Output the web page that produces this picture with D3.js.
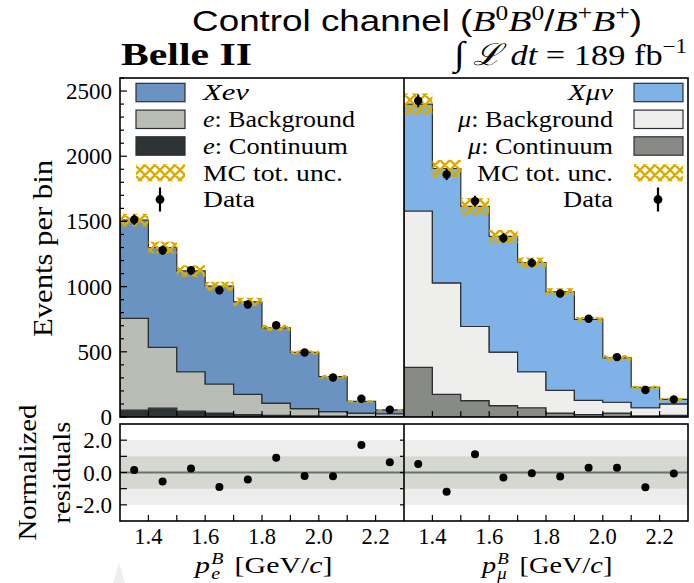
<!DOCTYPE html>
<html><head><meta charset="utf-8">
<script src="https://cdn.jsdelivr.net/npm/d3@7"></script>
<style>body{margin:0;background:#fff} svg{display:block}</style>
</head><body>
<svg id="c" width="694" height="583"></svg>
<script>
// ---------------- data ----------------
const binEdges = [1.3, 1.4, 1.5, 1.6, 1.7, 1.8, 1.9, 2.0, 2.1, 2.2, 2.3];
const binCenters = [1.35, 1.45, 1.55, 1.65, 1.75, 1.85, 1.95, 2.05, 2.15, 2.25];
const xTickValues = [1.4, 1.6, 1.8, 2.0, 2.2];
const xTickLabels = ["1.4", "1.6", "1.8", "2.0", "2.2"];
const yTickValues = [0, 500, 1000, 1500, 2000, 2500];
const resTickValues = [-2, 0, 2];
const resTickLabels = ["-2.0", "0.0", "2.0"];

// electron channel (stack: continuum, background, signal)
const contE = [52, 68, 45, 30, 18, 12, 8, 6, 4, 3];
const bkgE  = [704, 466, 302, 223, 156, 95, 56, 35, 26, 22];
const sigE  = [754, 766, 773, 750, 709, 577, 431, 268, 90, 29];
const uncE  = [48, 45, 44, 34, 32, 23, 16, 14, 9, 7];
const dataE = [1513, 1279, 1125, 972, 863, 704, 495, 303, 140, 56];
const errE  = [39, 36, 34, 31, 29, 27, 22, 17, 12, 8];
const resE  = [0.15, -0.55, 0.25, -0.90, -0.44, 0.92, -0.21, -0.23, 1.70, 0.63];

// muon channel
const contM = [380, 174, 125, 87, 71, 30, 18, 30, 8, 12];
const bkgM  = [1200, 854, 569, 411, 276, 174, 110, 83, 63, 88];
const sigM  = [820, 878, 921, 887, 838, 755, 620, 341, 156, 35];
const uncM  = [82, 66, 64, 50, 38, 29, 20, 21, 13, 12];
const dataM = [2425, 1860, 1656, 1372, 1182, 947, 753, 459, 207, 135];
const errM  = [49, 43, 41, 37, 34, 31, 27, 21, 14, 12];
const resM  = [0.52, -1.19, 1.13, -0.31, -0.04, -0.25, 0.29, 0.29, -0.92, -0.06];

const legendLabelsE = [[["Xeν", true]], [["e", true], [": Background", false]], [["e", true], [": Continuum", false]], [["MC tot. unc.", false]], [["Data", false]]];
const legendLabelsM = [[["Xμν", true]], [["μ", true], [": Background", false]], [["μ", true], [": Continuum", false]], [["MC tot. unc.", false]], [["Data", false]]];

// ---------------- style ----------------
const SERIF = "'Liberation Serif','Times New Roman',serif";
const SANS = "'Liberation Sans',Arial,sans-serif";
const colE = ["#2e3436", "#babdb6", "#6a93c1"];
const colM = ["#888a85", "#eeeeec", "#7fb3e8"];
const hatchCol = "#d9ac00";
const edgeCol = "#2b2f31";

const L = 120, MID = 404, R = 688, T = 78, B = 417, RT = 424, RB = 521;

const svg = d3.select("#c");
const defs = svg.append("defs");
const pat = defs.append("pattern").attr("id", "hatch").attr("patternUnits", "userSpaceOnUse")
  .attr("width", 10).attr("height", 10);
pat.append("path").attr("d", "M0,0 L10,10 M-1,9 L1,11 M9,-1 L11,1 M0,10 L10,0 M-1,1 L1,-1 M9,11 L11,9")
  .attr("stroke", hatchCol).attr("stroke-width", 2.4).attr("fill", "none");
[["clipE", L, MID], ["clipM", MID, R]].forEach(([id, a, b]) => {
  defs.append("clipPath").attr("id", id).append("rect").attr("x", a).attr("y", T).attr("width", b - a).attr("height", B - T);
});

const xE = d3.scaleLinear().domain([1.3, 2.3]).range([L, MID]);
const xM = d3.scaleLinear().domain([1.3, 2.3]).range([MID, R]);
const y = d3.scaleLinear().domain([0, 2600]).range([B, T]);
const yr = d3.scaleLinear().domain([-3, 3]).range([RB, RT]);

function drawPanel(x, clip, comps, cols, unc, data, err, res) {
  const g = svg.append("g").attr("clip-path", `url(#${clip})`);
  let lower = comps[0].map(() => 0);
  const layers = comps.map(c => {
    const y0 = lower.slice();
    const y1 = lower.map((v, i) => v + c[i]);
    lower = y1;
    return { y0, y1 };
  });
  const area = d3.area().curve(d3.curveStepAfter)
    .x(d => x(d.x)).y0(d => y(d.y0)).y1(d => y(d.y1));
  layers.forEach((ly, k) => {
    const pts = binEdges.map((e, i) => {
      const j = Math.min(i, 9);
      return { x: e, y0: ly.y0[j], y1: ly.y1[j] };
    });
    g.append("path").attr("d", area(pts)).attr("fill", cols[k])
      .attr("stroke", edgeCol).attr("stroke-width", 1.2);
  });
  const total = lower;
  g.selectAll("rect.unc").data(total).join("rect").attr("class", "unc")
    .attr("x", (d, i) => x(binEdges[i]))
    .attr("width", (d, i) => x(binEdges[i + 1]) - x(binEdges[i]))
    .attr("y", (d, i) => y(d + unc[i]))
    .attr("height", (d, i) => y(d - unc[i]) - y(d + unc[i]))
    .attr("fill", "url(#hatch)");
  g.selectAll("line.err").data(data).join("line").attr("class", "err")
    .attr("x1", (d, i) => x(binCenters[i])).attr("x2", (d, i) => x(binCenters[i]))
    .attr("y1", (d, i) => y(d - err[i])).attr("y2", (d, i) => y(d + err[i]))
    .attr("stroke", "#000").attr("stroke-width", 2);
  g.selectAll("circle").data(data).join("circle")
    .attr("cx", (d, i) => x(binCenters[i])).attr("cy", d => y(d)).attr("r", 4.2).attr("fill", "#000");
  svg.append("g").selectAll("circle").data(res).join("circle")
    .attr("cx", (d, i) => x(binCenters[i])).attr("cy", d => yr(d)).attr("r", 4).attr("fill", "#000");
}

// residual bands (behind)
const rb = svg.append("g");
rb.append("rect").attr("x", L).attr("width", R - L).attr("y", yr(2)).attr("height", yr(-2) - yr(2)).attr("fill", "#ededeb");
rb.append("rect").attr("x", L).attr("width", R - L).attr("y", yr(1)).attr("height", yr(-1) - yr(1)).attr("fill", "#d5d8d1");
rb.append("line").attr("x1", L).attr("x2", R).attr("y1", yr(0)).attr("y2", yr(0)).attr("stroke", "#6f716d").attr("stroke-width", 2);

drawPanel(xE, "clipE", [contE, bkgE, sigE], colE, uncE, dataE, errE, resE);
drawPanel(xM, "clipM", [contM, bkgM, sigM], colM, uncM, dataM, errM, resM);

// ---------------- axes / ticks ----------------
const ax = svg.append("g").attr("stroke", "#000").attr("stroke-width", 1.2);
d3.range(0, 2601, 100).forEach(v => {
  const major = v % 500 === 0;
  ax.append("line").attr("x1", L).attr("x2", L + (major ? 7 : 4)).attr("y1", y(v)).attr("y2", y(v));
});
[-2, -1, 0, 1, 2].forEach(v => {
  ax.append("line").attr("x1", L).attr("x2", L + 7).attr("y1", yr(v)).attr("y2", yr(v));
  ax.append("line").attr("x1", MID - 4).attr("x2", MID).attr("y1", yr(v)).attr("y2", yr(v));
});
[xE, xM].forEach(x => {
  binEdges.slice(1, 10).forEach(v => {
    ax.append("line").attr("x1", x(v)).attr("x2", x(v)).attr("y1", B).attr("y2", B - 6);
    ax.append("line").attr("x1", x(v)).attr("x2", x(v)).attr("y1", RB).attr("y2", RB - 6);
  });
});
const fr = svg.append("g").attr("fill", "none").attr("stroke", "#000").attr("stroke-width", 1.6);
fr.append("rect").attr("x", L).attr("y", T).attr("width", R - L).attr("height", B - T);
fr.append("line").attr("x1", MID).attr("x2", MID).attr("y1", T).attr("y2", B);
fr.append("rect").attr("x", L).attr("y", RT).attr("width", R - L).attr("height", RB - RT);
fr.append("line").attr("x1", MID).attr("x2", MID).attr("y1", RT).attr("y2", RB);

const tl = svg.append("g").style("font-family", SERIF).style("font-size", "23px").attr("fill", "#000");
yTickValues.forEach(v => tl.append("text").attr("x", 112).attr("y", y(v) + 8).attr("text-anchor", "end").text(v));
resTickValues.forEach((v, i) => tl.append("text").attr("x", 112).attr("y", yr(v) + 8).attr("text-anchor", "end").text(resTickLabels[i]));
[xE, xM].forEach(x => xTickValues.forEach((v, i) =>
  tl.append("text").attr("x", x(v)).attr("y", 544).attr("text-anchor", "middle")
    .style("font-size", "22.5px").text(xTickLabels[i])));

function fitH(node, target, ax0) {
  const w = node.getComputedTextLength();
  const k = target / w;
  node.setAttribute("transform", `translate(${ax0},0) scale(${k},1) translate(${-ax0},0)`);
}

// ---------------- legends ----------------
const rows = [92.5, 119.3, 146, 172.8, 199.5];
function legend(cols, labels, patchX, textX, anchor, dataX, widths) {
  const g = svg.append("g");
  rows.forEach((ry, i) => {
    if (i < 3) {
      g.append("rect").attr("x", patchX).attr("y", ry - 9.2).attr("width", 49).attr("height", 18.4)
        .attr("fill", cols[2 - i]).attr("stroke", edgeCol).attr("stroke-width", 1.2);
    } else if (i === 3) {
      g.append("rect").attr("x", patchX).attr("y", ry - 8.5).attr("width", 49).attr("height", 17)
        .attr("fill", "url(#hatch)");
    } else {
      g.append("line").attr("x1", dataX).attr("x2", dataX).attr("y1", ry - 12).attr("y2", ry + 12)
        .attr("stroke", "#000").attr("stroke-width", 2.2);
      g.append("circle").attr("cx", dataX).attr("cy", ry).attr("r", 4.4).attr("fill", "#000");
    }
    const t = g.append("text").attr("x", textX).attr("y", ry + 8).attr("text-anchor", anchor)
      .style("font-family", SERIF).style("font-size", "24px");
    labels[i].forEach(([s, it]) => t.append("tspan").style("font-style", it ? "italic" : "normal").text(s));
    fitH(t.node(), widths[i], textX);
  });
}
legend(colE, legendLabelsE, 136, 203, "start", 160, [46, 152, 145, 140, 52]);
legend(colM, legendLabelsM, 634, 613, "end", 658, [45, 155, 145, 136, 50]);

// ---------------- titles ----------------
const title = svg.append("text").attr("x", 417).attr("y", 31).attr("text-anchor", "middle").attr("fill", "#000");
function piece(parent, s, font, size, italic, dy, dx) {
  const ts = parent.append("tspan").style("font-family", font).style("font-size", size + "px")
    .style("font-style", italic ? "italic" : "normal").text(s);
  if (dy) ts.attr("dy", dy);
  if (dx) ts.attr("dx", dx);
  return ts;
}
piece(title, "Control channel (", SANS, 29, false);
piece(title, "B", SERIF, 30, true);
piece(title, "0", SERIF, 20, false, -11);
piece(title, "B", SERIF, 30, true, 11);
piece(title, "0", SERIF, 20, false, -11);
piece(title, "/", SANS, 29, false, 11);
piece(title, "B", SERIF, 30, true);
piece(title, "+", SERIF, 20, false, -11);
piece(title, "B", SERIF, 30, true, 11);
piece(title, "+", SERIF, 20, false, -11);
piece(title, ")", SANS, 29, false, 11);
fitH(title.node(), 450, 417);

const belle = svg.append("text").attr("x", 121).attr("y", 65).style("font-family", SERIF)
  .style("font-size", "32px").style("font-weight", "bold").text("Belle II");
fitH(belle.node(), 131, 121);

const lumi = svg.append("text").attr("x", 687).attr("y", 65).attr("text-anchor", "end");
piece(lumi, "∫", SERIF, 34, true);
piece(lumi, " ℒ", SERIF, 30, true);
piece(lumi, " dt", SERIF, 30, true);
piece(lumi, " = 189 fb", SERIF, 30, false);
piece(lumi, "−1", SERIF, 20, false, -12);
fitH(lumi.node(), 233, 687);

// ---------------- axis labels ----------------
function rotLabel(s, bx, cy, size, target) {
  const g = svg.append("g").attr("transform", `translate(${bx},${cy}) rotate(-90)`);
  const t = g.append("text").attr("x", 0).attr("y", 0).attr("text-anchor", "middle")
    .style("font-family", SERIF).style("font-size", size + "px").text(s);
  fitH(t.node(), target, 0);
}
rotLabel("Events per bin", 52, 248.5, 27, 177);
rotLabel("Normalized", 36, 472.5, 26, 136);
rotLabel("residuals", 70, 472.5, 26, 102);

function measure(s, size, italic) {
  const t = svg.append("text").style("font-family", SERIF).style("font-size", size + "px")
    .style("font-style", italic ? "italic" : "normal").text(s);
  const w = t.node().getComputedTextLength();
  t.remove();
  return w;
}
function xLabel(cx, base, sub, target) {
  const wB = measure("B", 16, true), wS = measure(sub, 16, true);
  const g = svg.append("g");
  const t = g.append("text").attr("x", 0).attr("y", base);
  piece(t, "p", SERIF, 24, true);
  piece(t, "B", SERIF, 16, true, -9, 1);
  piece(t, sub, SERIF, 16, true, 15, -wB);
  piece(t, "[GeV/", SERIF, 24, false, -6, Math.max(0, wB - wS) + 9);
  piece(t, "c", SERIF, 24, true);
  piece(t, "]", SERIF, 24, false);
  const total = t.node().getComputedTextLength();
  const k = target / total;
  g.attr("transform", `translate(${cx - target / 2},0) scale(${k},1)`);
}
xLabel((L + MID) / 2, 573, "e", 134);
xLabel((MID + R) / 2, 573, "μ", 128);

svg.append("polygon").attr("points", "113,583 119,563 125,583").attr("fill", "#eeeeee");
</script>
</body></html>
